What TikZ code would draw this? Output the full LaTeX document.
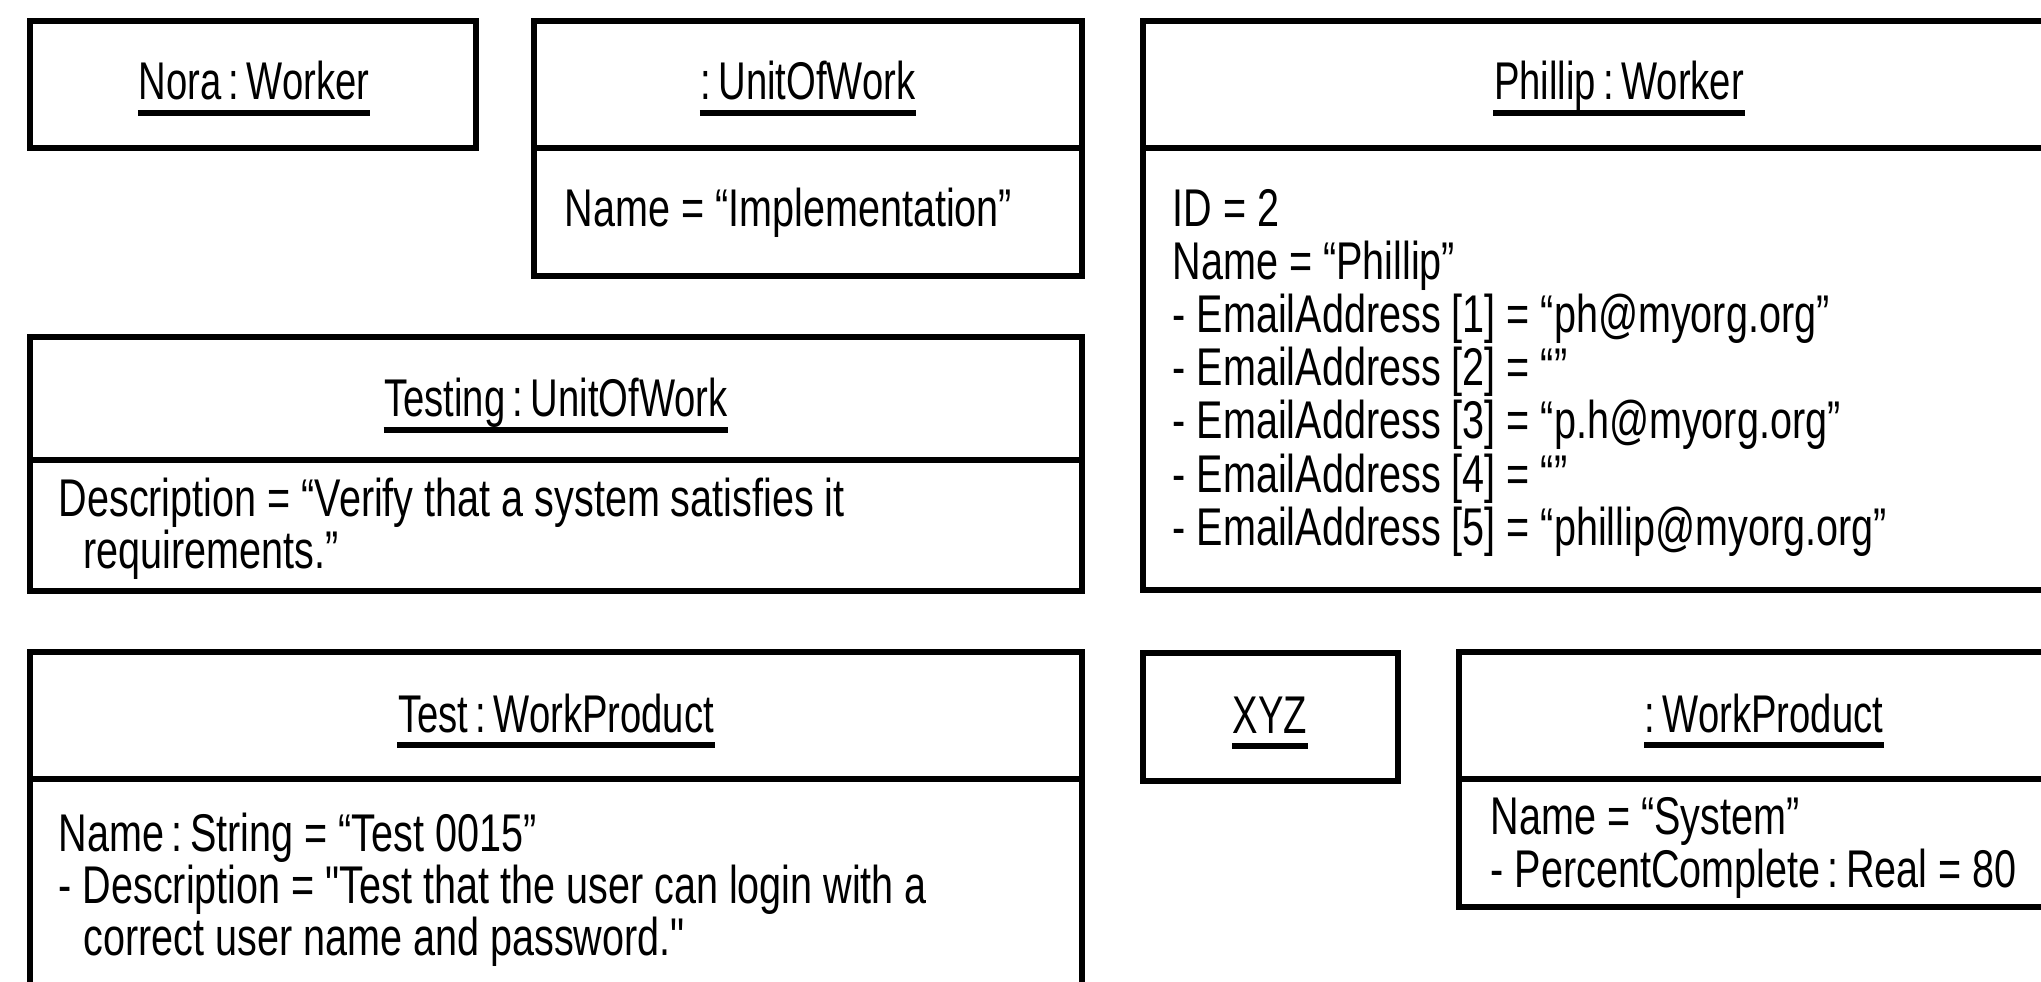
\documentclass[tikz,border=0pt]{standalone}
\usepackage{fontspec}
\newfontfamily\objfam{Liberation Sans}[FakeStretch=0.72]
\newfontfamily\attrfam{Liberation Sans}[FakeStretch=0.745]
\usetikzlibrary{calc}
\newcommand\objfont{\objfam\fontsize{15.1pt}{15.1pt}\selectfont}
\newcommand\attrfont{\attrfam\fontsize{15.1pt}{15.1pt}\selectfont}
% narrow colon used between names and types
\newcommand\cl{\hspace{0.14em}:\hspace{0.14em}}
\tikzset{
  objbox/.style={draw=black, line width=1.9pt, line join=miter},
  ttl/.style={anchor=base, inner sep=0pt, font=\objfont},
  attr/.style={anchor=base west, inner sep=0pt, font=\attrfont},
  uline/.style={line width=1.5pt}
}
\begin{document}
\begin{tikzpicture}[x=0.01cm, y=-0.01cm]
  \useasboundingbox (0,0) rectangle (2041,982);
  \clip (0,0) rectangle (2041,982);

  % Nora : Worker
  \draw[objbox] (30,21) rectangle (476,148);
  \node[ttl] (nora) at (254,100) {Nora\cl Worker};

  % :UnitOfWork
  \draw[objbox] (534,21) rectangle (1082,276);
  \draw[objbox] (534,148) -- (1082,148);
  \node[ttl] (uow) at (808,100) {:\hspace{0.14em}UnitOfWork};
  \node[attr] (uowname) at (564,227) {Name = “Implementation”};

  % Phillip : Worker
  \draw[objbox] (1143,21) rectangle (2095,590);
  \draw[objbox] (1143,148) -- (2095,148);
  \node[ttl] (phillip) at (1619,100) {Phillip\cl Worker};
  \node[attr] (pa1) at (1172,227) {ID = 2};
  \node[attr] (pa2) at (1172,280) {Name = “Phillip”};
  \node[attr] (pa3) at (1172,333) {- EmailAddress [1] = “ph@myorg.org”};
  \node[attr] (pa4) at (1172,386) {- EmailAddress [2] = “”};
  \node[attr] (pa5) at (1172,439) {- EmailAddress [3] = “p.h@myorg.org”};
  \node[attr] (pa6) at (1172,492) {- EmailAddress [4] = “”};
  \node[attr] (pa7) at (1172,545) {- EmailAddress [5] = “phillip@myorg.org”};

  % Testing : UnitOfWork
  \draw[objbox] (30,337) rectangle (1082,591);
  \draw[objbox] (30,460) -- (1082,460);
  \node[ttl] (testing) at (556,417) {Testing\cl UnitOfWork};
  \node[attr] (ta1) at (58,517) {Description = “Verify that a system satisfies it};
  \node[attr] (ta2) at (83,569) {requirements.”};

  % Test : WorkProduct
  \draw[objbox] (30,652) rectangle (1082,1030);
  \draw[objbox] (30,779) -- (1082,779);
  \node[ttl] (test) at (556,732) {Test\cl WorkProduct};
  \node[attr] (wa1) at (58,851) {Name\cl String = “Test 0015”};
  \node[attr] (wa2) at (58,903) {- Description = "Test that the user can login with a};
  \node[attr] (wa3) at (83,955) {correct user name and password."};

  % XYZ
  \draw[objbox] (1143,653) rectangle (1398,781);
  \node[ttl] (xyz) at (1270,733) {XYZ};

  % :WorkProduct
  \draw[objbox] (1459,652) rectangle (2069,907);
  \draw[objbox] (1459,779) -- (2069,779);
  \node[ttl] (wp) at (1764,732) {:\hspace{0.14em}WorkProduct};
  \node[attr] (sa1) at (1490,834) {Name = “System”};
  \node[attr] (sa2) at (1490,887) {- PercentComplete\cl Real = 80};

  % underlined object names
  \foreach \n in {nora,uow,phillip,testing,test,xyz,wp}
    \draw[uline] ($(\n.base west)+(0,13)$) -- ($(\n.base east)+(0,13)$);
\end{tikzpicture}
\end{document}
